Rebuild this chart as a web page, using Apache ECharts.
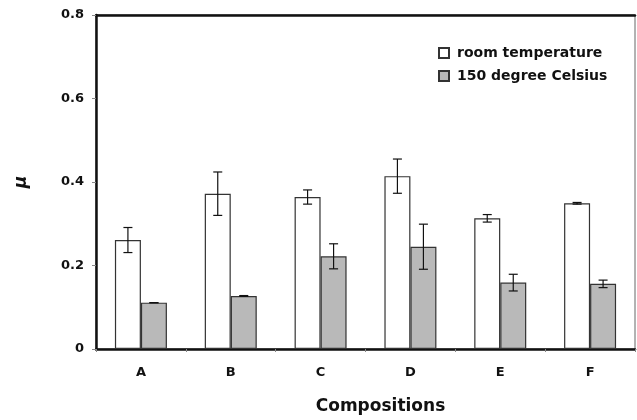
<!DOCTYPE html>
<html>
<head>
<meta charset="utf-8">
<script src="https://cdn.jsdelivr.net/npm/echarts@6/dist/echarts.min.js"></script>
<style>
  html, body { margin: 0; padding: 0; background: #fff; }
  #chart { width: 637px; height: 420px; }
</style>
</head>
<body>
<div id="chart"></div>
<script>
// data
var categories = ['A', 'B', 'C', 'D', 'E', 'F'];
var roomTemp = [0.261, 0.372, 0.364, 0.414, 0.313, 0.349];
var roomTempErr = [0.03, 0.052, 0.017, 0.041, 0.009, 0.002];
var hot150 = [0.111, 0.127, 0.222, 0.245, 0.159, 0.156];
var hot150Err = [0, 0.001, 0.03, 0.054, 0.02, 0.009];
var yTicks = [0, 0.2, 0.4, 0.6, 0.8];

var BAR_W = 26;
var FONT = 'DejaVu Sans, Arial, sans-serif';

function errData(vals, errs) {
  return vals.map(function (v, i) { return [i, v - errs[i], v + errs[i]]; });
}

function errRender(offset) {
  return function (params, api) {
    var i = api.value(0);
    var lo = api.coord([i, api.value(1)]);
    var hi = api.coord([i, api.value(2)]);
    var x = lo[0] + offset;
    var cap = 4.5;
    var st = { stroke: '#111', lineWidth: 1.2 };
    return {
      type: 'group',
      children: [
        { type: 'line', shape: { x1: x, y1: lo[1], x2: x, y2: hi[1] }, style: st },
        { type: 'line', shape: { x1: x - cap, y1: lo[1], x2: x + cap, y2: lo[1] }, style: st },
        { type: 'line', shape: { x1: x - cap, y1: hi[1], x2: x + cap, y2: hi[1] }, style: st }
      ]
    };
  };
}

var chart = echarts.init(document.getElementById('chart'));

chart.setOption({
  animation: false,
  grid: {
    left: 96, right: 2, top: 15, bottom: 71,
    outerBoundsMode: 'none',
    show: true, borderColor: '#666', borderWidth: 1, backgroundColor: '#fff'
  },
  legend: {
    left: 433, top: 41, orient: 'vertical', itemGap: 9,
    itemWidth: 10, itemHeight: 10, icon: 'rect',
    textStyle: { fontFamily: FONT, fontWeight: 'bold', fontSize: 14, color: '#111', padding: [0, 0, 0, 3] },
    data: ['room temperature', '150 degree Celsius']
  },
  xAxis: [{
    type: 'category',
    data: categories,
    name: 'Compositions',
    nameLocation: 'middle',
    nameGap: 49,
    nameTextStyle: { fontFamily: FONT, fontWeight: 'bold', fontSize: 17, color: '#111', padding: [0, 0, 0, 30] },
    axisLine: { lineStyle: { color: '#111', width: 2.5 } },
    axisTick: { show: true, length: 3, lineStyle: { color: '#888' } },
    axisLabel: { fontFamily: FONT, fontWeight: 'bold', fontSize: 13, color: '#111', margin: 17 }
  }, {
    type: 'category',
    data: categories,
    position: 'top',
    axisLine: { lineStyle: { color: '#111', width: 2.5 } },
    axisTick: { show: false },
    axisLabel: { show: false }
  }],
  yAxis: {
    type: 'value',
    min: 0, max: 0.8, interval: 0.2,
    name: 'μ',
    nameLocation: 'middle',
    nameGap: 66,
    nameRotate: 90,
    nameTextStyle: { fontFamily: FONT, fontWeight: 'bold', fontStyle: 'italic', fontSize: 17, color: '#111' },
    splitLine: { show: false },
    axisLine: { show: true, lineStyle: { color: '#111', width: 2.5 } },
    axisTick: { show: true, length: 4, lineStyle: { color: '#888' } },
    axisLabel: {
      fontFamily: FONT, fontWeight: 'bold', fontSize: 13, color: '#111', margin: 12,
      formatter: function (v) {
        var t = yTicks.find(function (k) { return Math.abs(k - v) < 1e-9; });
        return t === 0 ? '0' : String(t);
      }
    }
  },
  series: [
    {
      name: 'room temperature', type: 'bar', data: roomTemp,
      barWidth: BAR_W, barGap: '0%',
      itemStyle: { color: '#fff', borderColor: '#333', borderWidth: 1.2 }
    },
    {
      name: '150 degree Celsius', type: 'bar', data: hot150,
      barWidth: BAR_W, barGap: '0%',
      itemStyle: { color: '#b9b9b9', borderColor: '#333', borderWidth: 1.2 }
    },
    {
      type: 'custom', name: 'err-room', data: errData(roomTemp, roomTempErr),
      renderItem: errRender(-BAR_W / 2), encode: { x: 0, y: [1, 2] }, z: 10, silent: true
    },
    {
      type: 'custom', name: 'err-150', data: errData(hot150, hot150Err),
      renderItem: errRender(BAR_W / 2), encode: { x: 0, y: [1, 2] }, z: 10, silent: true
    }
  ]
});
</script>
</body>
</html>
